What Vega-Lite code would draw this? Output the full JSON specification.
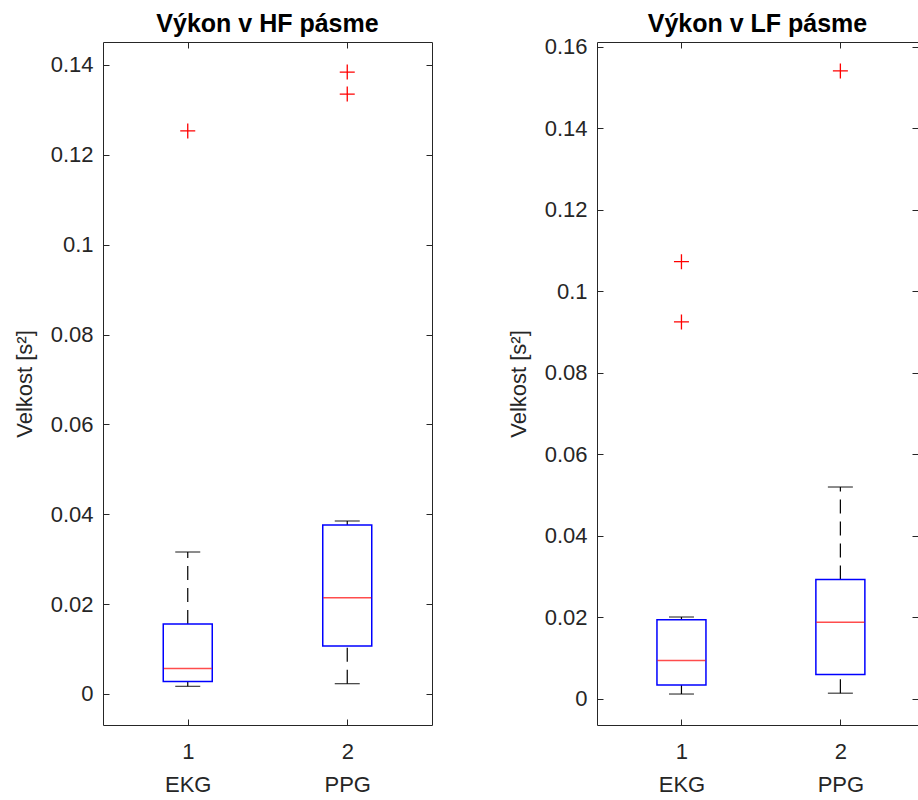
{
  "$schema": "https://vega.github.io/schema/vega-lite/v6.json",
  "padding": {"left": 13, "top": 11, "right": 0, "bottom": 0},
  "spacing": 74,
  "datasets": {
    "hf": [
      {"group": 1, "lo": 0.0017, "q1": 0.0028, "med": 0.0057, "q3": 0.0156, "hi": 0.0316},
      {"group": 2, "lo": 0.0023, "q1": 0.0107, "med": 0.0214, "q3": 0.0376, "hi": 0.0385}
    ],
    "hfOut": [
      {"group": 1, "value": 0.1253},
      {"group": 2, "value": 0.1384},
      {"group": 2, "value": 0.1335}
    ],
    "lf": [
      {"group": 1, "lo": 0.0012, "q1": 0.0034, "med": 0.0094, "q3": 0.0194, "hi": 0.0201},
      {"group": 2, "lo": 0.0014, "q1": 0.006, "med": 0.0188, "q3": 0.0293, "hi": 0.052}
    ],
    "lfOut": [
      {"group": 1, "value": 0.1073},
      {"group": 1, "value": 0.0925},
      {"group": 2, "value": 0.1541}
    ]
  },
  "config": {
    "view": {"stroke": null},
    "axis": {
      "labelFont": "Liberation Sans", "labelFontSize": 22, "labelColor": "#262626",
      "titleFont": "Liberation Sans", "titleFontSize": 22, "titleFontWeight": "normal", "titleColor": "#262626",
      "domainColor": "#262626", "tickColor": "#262626", "grid": false, "domainWidth": 1, "tickWidth": 1
    },
    "title": {"font": "Liberation Sans", "fontSize": 25, "fontWeight": "bold", "color": "#000000", "baseline": "alphabetic"}
  },
  "hconcat": [
    {
      "width": 329, "height": 683,
      "title": {"text": "Výkon v HF pásme", "offset": 5},
      "layer": [
        {
          "data": {"name": "hf"},
          "mark": {"type": "rule", "strokeDash": [14, 8], "color": "#000000", "strokeWidth": 1.2},
          "encoding": {
            "x": {"field": "group", "type": "quantitative", "scale": {"domain": [0.5, 2.5], "nice": false, "zero": false},
              "axis": {"orient": "bottom", "values": [1, 2], "title": null, "tickSize": -6, "labelPadding": 22, "labelLineHeight": 33,
                "labelExpr": "[datum.value == 1 ? '1' : '2', datum.value == 1 ? 'EKG' : 'PPG']"}},
            "y": {"field": "q3", "type": "quantitative", "scale": {"domain": [-0.0069, 0.1451], "nice": false, "zero": false},
              "axis": {"orient": "left", "values": [0, 0.02, 0.04, 0.06, 0.08, 0.1, 0.12, 0.14], "format": "~g", "title": "Velkost [s²]", "tickSize": -6, "labelPadding": 16, "titlePadding": 14}},
            "y2": {"field": "hi"}
          }
        },
        {
          "data": {"name": "hf"},
          "mark": {"type": "rule", "strokeDash": [14, 8], "color": "#000000", "strokeWidth": 1.2},
          "encoding": {
            "x": {"field": "group", "type": "quantitative", "axis": null},
            "y": {"field": "lo", "type": "quantitative", "axis": null},
            "y2": {"field": "q1"}
          }
        },
        {
          "data": {"name": "hf"},
          "mark": {"type": "tick", "orient": "horizontal", "color": "#000000", "size": 25, "thickness": 1.3},
          "encoding": {
            "x": {"field": "group", "type": "quantitative", "axis": null},
            "y": {"field": "hi", "type": "quantitative", "axis": null}
          }
        },
        {
          "data": {"name": "hf"},
          "mark": {"type": "tick", "orient": "horizontal", "color": "#000000", "size": 25, "thickness": 1.3},
          "encoding": {
            "x": {"field": "group", "type": "quantitative", "axis": null},
            "y": {"field": "lo", "type": "quantitative", "axis": null}
          }
        },
        {
          "data": {"name": "hf"},
          "mark": {"type": "bar", "fill": "transparent", "stroke": "#0000FF", "strokeWidth": 1.5, "size": 49},
          "encoding": {
            "x": {"field": "group", "type": "quantitative", "axis": null},
            "y": {"field": "q1", "type": "quantitative", "axis": null},
            "y2": {"field": "q3"}
          }
        },
        {
          "data": {"name": "hf"},
          "mark": {"type": "tick", "orient": "horizontal", "color": "#FF0000", "size": 48, "thickness": 1.5},
          "encoding": {
            "x": {"field": "group", "type": "quantitative", "axis": null},
            "y": {"field": "med", "type": "quantitative", "axis": null}
          }
        },
        {
          "data": {"name": "hfOut"},
          "mark": {"type": "point", "shape": "M-1,0L1,0M0,-1L0,1", "size": 225, "filled": false, "color": "#FF0000", "strokeWidth": 1.3, "opacity": 1},
          "encoding": {
            "x": {"field": "group", "type": "quantitative", "axis": {"orient": "top", "values": [1, 2], "labels": false, "title": null, "tickSize": -6}},
            "y": {"field": "value", "type": "quantitative", "axis": {"orient": "right", "values": [0, 0.02, 0.04, 0.06, 0.08, 0.1, 0.12, 0.14], "labels": false, "title": null, "tickSize": -6}}
          }
        }
      ],
      "resolve": {"axis": {"x": "independent", "y": "independent"}}
    },
    {
      "width": 321, "height": 683,
      "title": {"text": "Výkon v LF pásme", "offset": -1},
      "layer": [
        {
          "data": {"name": "lf"},
          "mark": {"type": "rule", "strokeDash": [14, 8], "color": "#000000", "strokeWidth": 1.2},
          "encoding": {
            "x": {"field": "group", "type": "quantitative", "scale": {"domain": [0.5, 2.457], "nice": false, "zero": false},
              "axis": {"orient": "bottom", "values": [1, 2], "title": null, "tickSize": -6, "labelPadding": 22, "labelLineHeight": 33,
                "labelExpr": "[datum.value == 1 ? '1' : '2', datum.value == 1 ? 'EKG' : 'PPG']"}},
            "y": {"field": "q3", "type": "quantitative", "scale": {"domain": [-0.0064, 0.1612], "nice": false, "zero": false},
              "axis": {"orient": "left", "values": [0, 0.02, 0.04, 0.06, 0.08, 0.1, 0.12, 0.14, 0.16], "format": "~g", "title": "Velkost [s²]", "tickSize": -6, "labelPadding": 16, "titlePadding": 14}},
            "y2": {"field": "hi"}
          }
        },
        {
          "data": {"name": "lf"},
          "mark": {"type": "rule", "strokeDash": [14, 8], "color": "#000000", "strokeWidth": 1.2},
          "encoding": {
            "x": {"field": "group", "type": "quantitative", "axis": null},
            "y": {"field": "lo", "type": "quantitative", "axis": null},
            "y2": {"field": "q1"}
          }
        },
        {
          "data": {"name": "lf"},
          "mark": {"type": "tick", "orient": "horizontal", "color": "#000000", "size": 25, "thickness": 1.3},
          "encoding": {
            "x": {"field": "group", "type": "quantitative", "axis": null},
            "y": {"field": "hi", "type": "quantitative", "axis": null}
          }
        },
        {
          "data": {"name": "lf"},
          "mark": {"type": "tick", "orient": "horizontal", "color": "#000000", "size": 25, "thickness": 1.3},
          "encoding": {
            "x": {"field": "group", "type": "quantitative", "axis": null},
            "y": {"field": "lo", "type": "quantitative", "axis": null}
          }
        },
        {
          "data": {"name": "lf"},
          "mark": {"type": "bar", "fill": "transparent", "stroke": "#0000FF", "strokeWidth": 1.5, "size": 49},
          "encoding": {
            "x": {"field": "group", "type": "quantitative", "axis": null},
            "y": {"field": "q1", "type": "quantitative", "axis": null},
            "y2": {"field": "q3"}
          }
        },
        {
          "data": {"name": "lf"},
          "mark": {"type": "tick", "orient": "horizontal", "color": "#FF0000", "size": 48, "thickness": 1.5},
          "encoding": {
            "x": {"field": "group", "type": "quantitative", "axis": null},
            "y": {"field": "med", "type": "quantitative", "axis": null}
          }
        },
        {
          "data": {"name": "lfOut"},
          "mark": {"type": "point", "shape": "M-1,0L1,0M0,-1L0,1", "size": 225, "filled": false, "color": "#FF0000", "strokeWidth": 1.3, "opacity": 1},
          "encoding": {
            "x": {"field": "group", "type": "quantitative", "axis": {"orient": "top", "values": [1, 2], "labels": false, "title": null, "tickSize": -6}},
            "y": {"field": "value", "type": "quantitative", "axis": {"orient": "right", "values": [0, 0.02, 0.04, 0.06, 0.08, 0.1, 0.12, 0.14, 0.16], "labels": false, "title": null, "tickSize": -6}}
          }
        }
      ],
      "resolve": {"axis": {"x": "independent", "y": "independent"}}
    }
  ]
}
